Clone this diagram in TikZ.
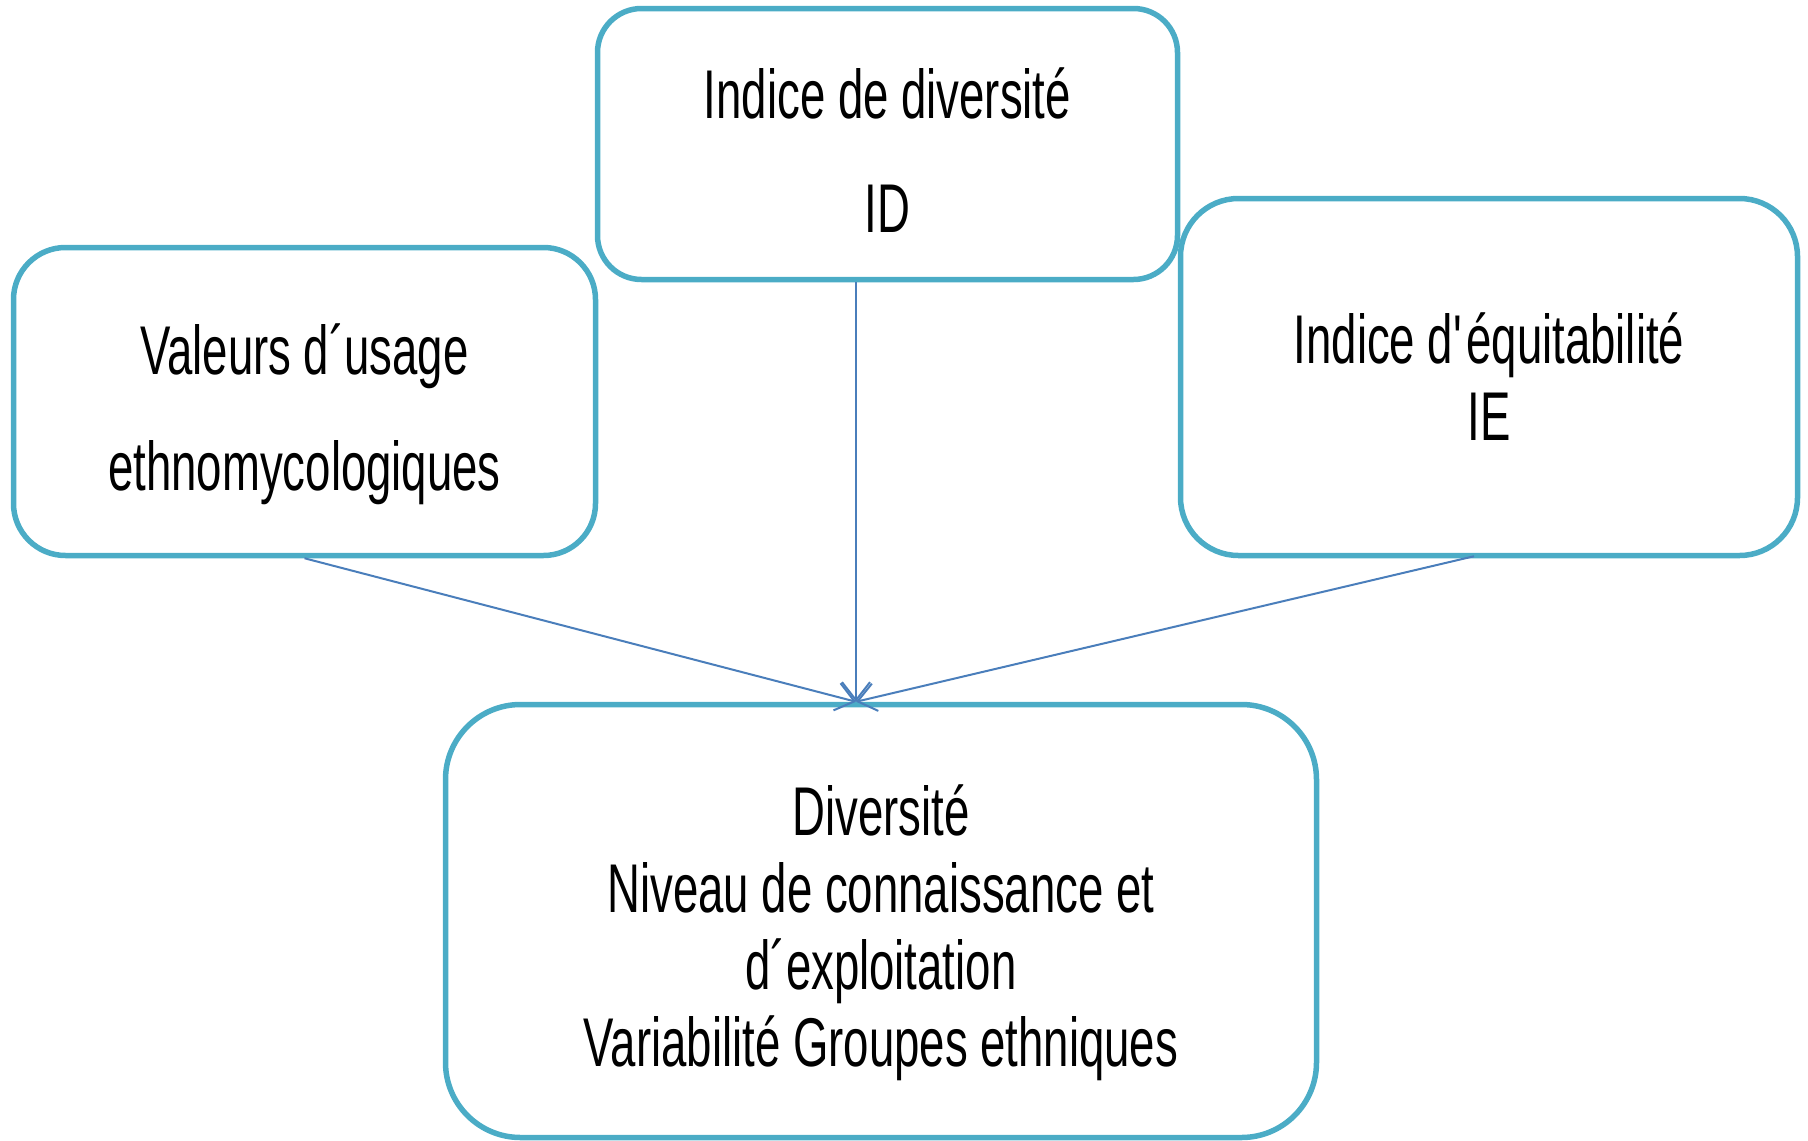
\documentclass[tikz,border=0pt]{standalone}
\usepackage{fontspec}
\setmainfont[FakeStretch=0.66]{Liberation Sans}
\usetikzlibrary{arrows.meta,calc}
\definecolor{boxc}{HTML}{4BACC6}
\definecolor{arrc}{HTML}{4A7EBB}
\begin{document}
\begin{tikzpicture}[x=1pt,y=-1pt,
  box/.style={draw=boxc,line width=5.5pt,align=center,inner sep=0pt,
    font=\fontsize{69}{77}\selectfont},
  arr/.style={draw=arrc,line width=2pt,-{Straight Barb[length=18pt,width=28pt,line width=2pt]}}]
\useasboundingbox (0,0) rectangle (1808,1141);
\node[box,rounded corners=44pt,minimum width=580pt,minimum height=271pt] (top) at (887.5,144)
  {\rule{0pt}{62pt}Indice de diversité\\[37pt]ID};
\node[box,rounded corners=52pt,minimum width=582pt,minimum height=308pt] (left) at (304.5,401.5)
  {\rule{0pt}{76pt}Valeurs d´usage\\[39pt]ethnomycologiques};
\node[box,rounded corners=58pt,minimum width=617pt,minimum height=357pt] (right) at (1489,377)
  {Indice d\textquotesingle équitabilité\\IE};
\node[box,rounded corners=75pt,minimum width=871pt,minimum height=433pt] (bot) at (881,921)
  {\rule{0pt}{74pt}Diversité\\Niveau de connaissance et\\d´exploitation\\Variabilité Groupes ethniques};
\coordinate (tip) at ($(bot.north)+(-25,0)$);
\draw[arr] (top.south -| tip) -- (tip);
\draw[arr] (left.south) -- (tip);
\draw[arr] ($(right.south)+(-15,-2)$) -- (tip);
\end{tikzpicture}
\end{document}
